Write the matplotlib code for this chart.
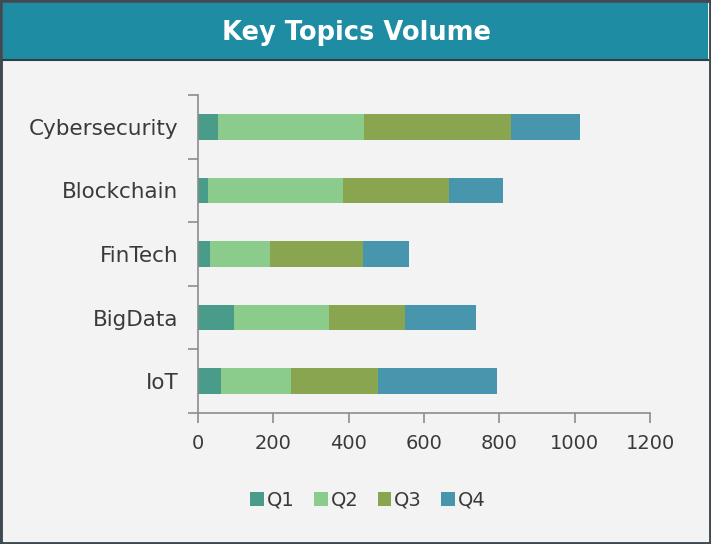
import matplotlib
matplotlib.use("Agg")
import matplotlib.pyplot as plt
from matplotlib.patches import Rectangle
import numpy as np

categories = ["Cybersecurity", "Blockchain", "FinTech", "BigData", "IoT"]
series_names = ["Q1", "Q2", "Q3", "Q4"]
q1 = [52, 27, 33, 95, 61]
q2 = [389, 358, 158, 252, 187]
q3 = [389, 282, 248, 202, 229]
q4 = [184, 143, 121, 190, 316]
colors = ["#4A9C8A", "#8BCB8B", "#8AA550", "#4895AE"]
x_ticks = [0, 200, 400, 600, 800, 1000, 1200]

plt.rcParams['font.family'] = ['DejaVu Sans']

W, H = 711, 544
fig = plt.figure(figsize=(W / 100, H / 100), dpi=100)
fig.patch.set_facecolor("#F3F3F3")

# outer border
fig.patches.append(Rectangle((0, 0), 1, 1, transform=fig.transFigure,
                             facecolor="none", edgecolor="#3E4A50", linewidth=3.5, zorder=0))
# title bar
fig.patches.append(Rectangle((0.004, 1 - 59 / H), 0.992, (59 - 3) / H, transform=fig.transFigure,
                             facecolor="#1E8CA3", edgecolor="none", zorder=1))
fig.lines.append(plt.Line2D([0.004, 0.996], [1 - 59.5 / H, 1 - 59.5 / H], transform=fig.transFigure,
                            color="#2C3E46", linewidth=1.5, zorder=2))
fig.text(357 / W, 1 - 33 / H, "Key Topics Volume", color="white", fontsize=18.5,
         fontweight="bold", ha="center", va="center", zorder=3)

ax = fig.add_axes([198 / W, 1 - 413 / H, (650 - 198) / W, (413 - 95) / H])
ax.set_facecolor("#F3F3F3")

y = np.arange(len(categories))
left = np.zeros(len(categories))
for name, vals, c in zip(series_names, [q1, q2, q3, q4], colors):
    ax.barh(y, vals, left=left, height=0.4, color=c, label=name, edgecolor="none")
    left += np.array(vals)

ax.set_ylim(len(categories) - 0.5, -0.5)
ax.set_xlim(0, 1200)
ax.set_xticks(x_ticks)
ax.set_xticklabels([str(t) for t in x_ticks])
ax.set_yticks(y)
ax.set_yticklabels(categories)
ax.set_yticks(np.arange(-0.5, len(categories), 1), minor=True)
ax.tick_params(axis="y", which="major", length=0, pad=14, labelsize=15.5, labelcolor="#3A3A3A")
ax.tick_params(axis="y", which="minor", length=7, color="#8C8C8C", width=1.2)
ax.tick_params(axis="x", which="major", length=7, color="#8C8C8C", width=1.2,
               pad=8, labelsize=14, labelcolor="#3A3A3A")
for s in ["top", "right"]:
    ax.spines[s].set_visible(False)
for s in ["left", "bottom"]:
    ax.spines[s].set_color("#8C8C8C")
    ax.spines[s].set_linewidth(1.2)

leg = fig.legend(loc="center", bbox_to_anchor=(368 / W, 1 - 500 / H), ncol=4, frameon=False,
                 fontsize=14, handlelength=0.7, handleheight=0.7, handletextpad=0.15,
                 columnspacing=1.0, labelcolor="#3A3A3A")

fig.savefig("out.png", dpi=100, facecolor=fig.get_facecolor())
